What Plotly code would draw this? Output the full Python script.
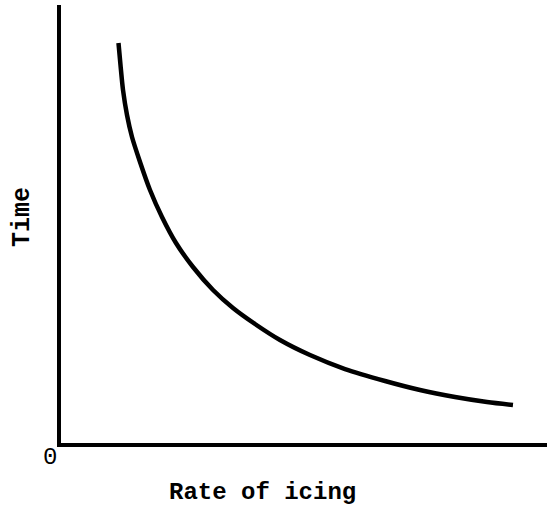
import plotly.graph_objects as go

# Values (arbitrary units, 0-100 on each axis)
rate_of_icing = [11.83, 12.24, 12.76, 13.58, 14.61, 16.26, 18.31, 20.78, 23.66,
                 27.16, 31.28, 35.39, 39.92, 45.06, 51.23, 58.44, 66.67, 73.87,
                 81.07, 87.65, 93.00]
time_values = [91.32, 86.30, 80.59, 74.89, 69.86, 64.16, 57.76, 51.60, 45.66,
               40.18, 34.93, 30.82, 27.17, 23.52, 20.09, 16.89, 14.16, 12.10,
               10.50, 9.36, 8.68]

x_title = "Rate of icing"
y_title = "Time"
origin_label = "0"

FONT = "Liberation Mono, Courier New, monospace"

fig = go.Figure()
fig.add_trace(go.Scatter(
    x=rate_of_icing, y=time_values, mode="lines",
    line=dict(color="#000000", width=4.5, shape="spline", smoothing=0.8),
    hoverinfo="skip", showlegend=False,
))

axis_common = dict(showgrid=False, zeroline=False, showticklabels=False,
                   ticks="", showline=True, linecolor="#000000")

fig.update_layout(
    width=547, height=505,
    margin=dict(l=61, r=0, t=5, b=62),
    paper_bgcolor="#ffffff", plot_bgcolor="#ffffff",
    xaxis=dict(range=[0, 100], linewidth=3.5, **axis_common),
    yaxis=dict(range=[0, 100], linewidth=4, **axis_common),
    annotations=[
        dict(text="<b>" + x_title + "</b>", xref="paper", yref="paper",
             x=0.4136, y=-0.1119, showarrow=False,
             font=dict(family=FONT, size=24, color="#000000"),
             xanchor="center", yanchor="middle"),
        dict(text="<b>" + y_title + "</b>", xref="paper", yref="paper",
             x=-0.0782, y=0.516, showarrow=False, textangle=-90,
             font=dict(family=FONT, size=25, color="#000000"),
             xanchor="center", yanchor="middle"),
        dict(text=origin_label, xref="paper", yref="paper",
             x=-0.0226, y=-0.032, showarrow=False,
             font=dict(family=FONT, size=24, color="#000000"),
             xanchor="center", yanchor="middle"),
    ],
)

fig.write_html(
    "out.html",
    config={"displayModeBar": False},
    post_script="document.body.style.margin='0px';document.body.style.overflow='hidden';",
)
